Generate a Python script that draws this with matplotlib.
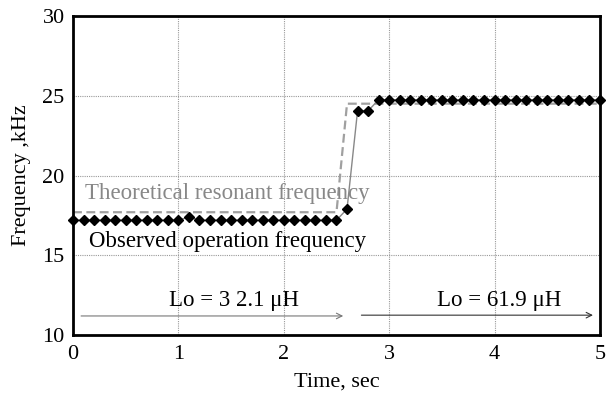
import matplotlib
matplotlib.use("Agg")
import matplotlib.pyplot as plt

time_s = [0.0, 0.1, 0.2, 0.3, 0.4, 0.5, 0.6, 0.7, 0.8, 0.9,
          1.0, 1.1, 1.2, 1.3, 1.4, 1.5, 1.6, 1.7, 1.8, 1.9,
          2.0, 2.1, 2.2, 2.3, 2.4, 2.5, 2.6, 2.7, 2.8, 2.9,
          3.0, 3.1, 3.2, 3.3, 3.4, 3.5, 3.6, 3.7, 3.8, 3.9,
          4.0, 4.1, 4.2, 4.3, 4.4, 4.5, 4.6, 4.7, 4.8, 4.9, 5.0]
observed_khz = [17.2, 17.2, 17.2, 17.2, 17.2, 17.2, 17.2, 17.2, 17.2, 17.2,
                17.2, 17.4, 17.2, 17.2, 17.2, 17.2, 17.2, 17.2, 17.2, 17.2,
                17.2, 17.2, 17.2, 17.2, 17.2, 17.2, 17.9, 24.05, 24.05, 24.75,
                24.75, 24.75, 24.75, 24.75, 24.75, 24.75, 24.75, 24.75, 24.75, 24.75,
                24.75, 24.75, 24.75, 24.75, 24.75, 24.75, 24.75, 24.75, 24.75, 24.75, 24.75]
theoretical_khz = [17.7, 17.7, 17.7, 17.7, 17.7, 17.7, 17.7, 17.7, 17.7, 17.7,
                   17.7, 17.7, 17.7, 17.7, 17.7, 17.7, 17.7, 17.7, 17.7, 17.7,
                   17.7, 17.7, 17.7, 17.7, 17.7, 17.7, 24.5, 24.5, 24.5, 24.5,
                   24.5, 24.5, 24.5, 24.5, 24.5, 24.5, 24.5, 24.5, 24.5, 24.5,
                   24.5, 24.5, 24.5, 24.5, 24.5, 24.5, 24.5, 24.5, 24.5, 24.5, 24.5]
x_ticks = [0, 1, 2, 3, 4, 5]
y_ticks = [10, 15, 20, 25, 30]

plt.rcParams['font.family'] = ['Liberation Serif', 'DejaVu Serif']

fig = plt.figure(figsize=(6.06, 3.98), dpi=100)
ax = fig.add_axes([0.1205, 0.158, 0.8695, 0.802])

ax.plot(time_s, theoretical_khz, linestyle=(0, (4, 2)), color='#a0a0a0', lw=1.6, zorder=2)
ax.plot(time_s, observed_khz, color='#888888', lw=1.0, zorder=3)
ax.plot(time_s, observed_khz, linestyle='none', marker='D', markersize=5.6,
        color='black', zorder=4, clip_on=False)

ax.set_xlim(0, 5)
ax.set_ylim(10, 30)
ax.set_xticks(x_ticks)
ax.set_yticks(y_ticks)
ax.tick_params(length=0, labelsize=16)
ax.tick_params(axis='x', pad=7)
ax.tick_params(axis='y', pad=6)
ax.grid(True, linestyle=(0, (1, 1)), color='#999999', lw=0.8)
for s in ax.spines.values():
    s.set_linewidth(2)

ax.set_xlabel('Time, sec', fontsize=16, labelpad=6)
ax.set_ylabel('Frequency ,kHz', fontsize=16, labelpad=8)

ax.text(0.11, 18.9, 'Theoretical resonant frequency', color='#888888', fontsize=16.5,
        va='center', ha='left')
ax.text(0.15, 15.85, 'Observed operation frequency', color='black', fontsize=16.5,
        va='center', ha='left')
ax.text(1.53, 12.2, 'Lo = 3 2.1 \u03bcH', fontsize=16.5, va='center', ha='center')
ax.text(4.04, 12.2, 'Lo = 61.9 \u03bcH', fontsize=16.5, va='center', ha='center')

ax.annotate('', xy=(2.59, 11.2), xytext=(0.05, 11.2),
            arrowprops=dict(arrowstyle='->', color='#777777', lw=0.8))
ax.annotate('', xy=(4.96, 11.25), xytext=(2.71, 11.25),
            arrowprops=dict(arrowstyle='->', color='#333333', lw=0.8))

fig.savefig('out.png', dpi=100)
